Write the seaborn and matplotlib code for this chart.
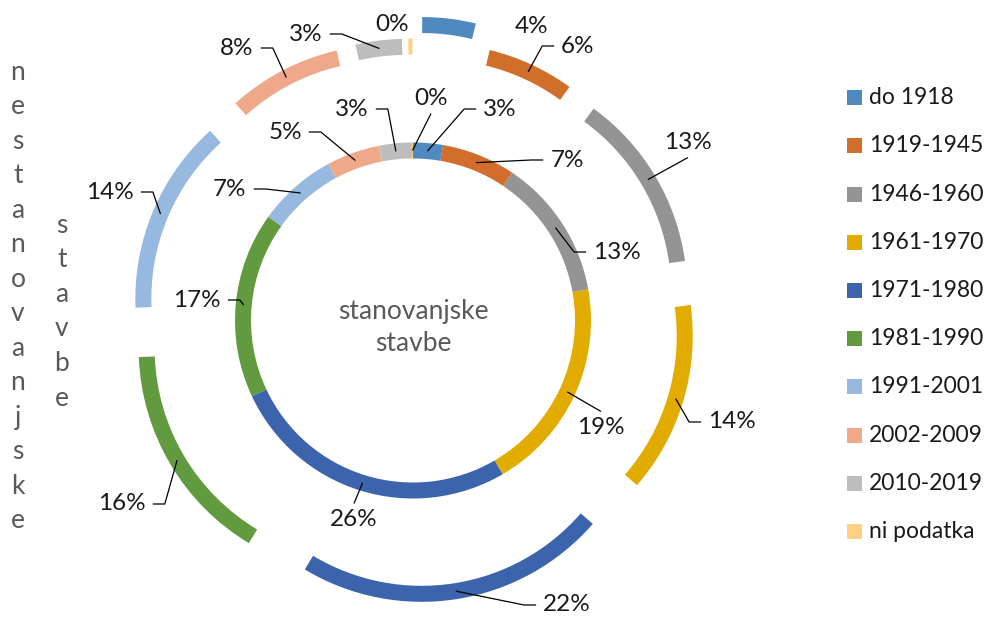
import matplotlib
matplotlib.use("Agg")
import matplotlib.pyplot as plt
import seaborn as sns
import numpy as np
from matplotlib.patches import Rectangle

# ---------------- data ----------------
categories = ["do 1918", "1919-1945", "1946-1960", "1961-1970", "1971-1980",
              "1981-1990", "1991-2001", "2002-2009", "2010-2019", "ni podatka"]
# inner ring: stanovanjske stavbe (%)
inner_values = [2.7, 6.7, 12.8, 19.4, 26.4, 16.9, 7.2, 4.8, 3.0, 0.1]
# outer ring: nestanovanjske stavbe (%)
outer_values = [3.8, 6.2, 12.8, 13.6, 22.2, 15.8, 13.9, 8.1, 3.3, 0.3]
center_title = "stanovanjske\nstavbe"
side_title_1 = "nestanovanjske"
side_title_2 = "stavbe"

# ---------------- style / layout ----------------
sns.set_theme(style="white")
plt.rcParams["font.family"] = ["Lato", "DejaVu Sans"]
colors = sns.color_palette(["#4F89BF", "#D26E2B", "#949494", "#E2AB00", "#3C64AD",
                            "#629A3F", "#98B9DF", "#F0A88B", "#BDBDBD", "#FED07F"])

W, H = 987, 617
CX, CY = 413, 320.5          # pixel coords (y down)
R_IN, R_OUT, RING_W = 178, 227, 16
explode_out = [77, 55, 55, 55, 55, 55, 55, 55, 55, 55]

# label layout (pixel centre, connection side)
outer_layout = [(532, 26, None), (578, 46, "l"), (688, 142, "b"), (732, 422, "l"),
                (567, 605, "l"), (122, 504, "r"), (110, 192, "r"), (237, 48, "r"),
                (306, 34, "r"), (392, 24, None)]
inner_layout = [(500, 109, "l"), (567, 160, "l"), (617, 252, "l"), (601, 427, "t"),
                (354, 519, "t"), (197, 300, "r"), (230, 189, "r"), (285, 132, "r"),
                (352, 109, "r"), (431, 98, "b")]

LBL = 17.5
LEG = 16.5
TTL = 19
TXT = "#1a1a1a"
GREY = "#595959"

fig = plt.figure(figsize=(W / 100, H / 100), dpi=100)
ax = fig.add_axes([0, 0, 1, 1])
cyd = H - CY

ax.pie(outer_values, radius=R_OUT, center=(CX, cyd), startangle=90, counterclock=False,
       colors=colors, explode=explode_out,
       wedgeprops=dict(width=RING_W, linewidth=0))
ax.pie(inner_values, radius=R_IN, center=(CX, cyd), startangle=90, counterclock=False,
       colors=colors, wedgeprops=dict(width=RING_W, linewidth=0))
ax.set_xlim(0, W)
ax.set_ylim(0, H)
ax.set_aspect("equal")
ax.axis("off")


def anchors(values, radius, explode):
    v = np.asarray(values, float)
    frac = v / v.sum()
    ends = np.cumsum(frac)
    mids = ends - frac / 2
    th = np.deg2rad(90 - 360 * mids)
    pts = []
    for t, e in zip(th, explode):
        rm = radius - RING_W / 2
        pts.append((CX + (e + rm) * np.cos(t), cyd + (e + rm) * np.sin(t)))
    return pts


ring_specs = [
    (outer_values, R_OUT, explode_out, outer_layout),
    (inner_values, R_IN, [0] * len(inner_values), inner_layout),
]

texts = []
for vals, rad, expl, layout in ring_specs:
    pts = anchors(vals, rad, expl)
    for v, p, (lx, ly, side) in zip(vals, pts, layout):
        t = ax.text(lx, H - ly, f"{round(v)}%", ha="center", va="center",
                    fontsize=LBL, color=TXT)
        texts.append((t, p, side))

fig.canvas.draw()
rend = fig.canvas.get_renderer()
for t, p, side in texts:
    if side is None:
        continue
    bb = t.get_window_extent(rend)
    xc = (bb.x0 + bb.x1) / 2
    yc = (bb.y0 + bb.y1) / 2
    if side == "l":
        end = (bb.x0 - 7, yc)
        elb = (end[0] - 12, yc)
        xs, ys = [p[0], elb[0], end[0]], [p[1], elb[1], end[1]]
    elif side == "r":
        end = (bb.x1 + 7, yc)
        elb = (end[0] + 12, yc)
        xs, ys = [p[0], elb[0], end[0]], [p[1], elb[1], end[1]]
    elif side == "t":
        xs, ys = [p[0], xc], [p[1], bb.y1 + 5]
    else:
        xs, ys = [p[0], xc], [p[1], bb.y0 - 5]
    ax.plot(xs, ys, color="black", lw=0.9, solid_capstyle="butt")

# centre title
ax.text(CX, H - 327, center_title, ha="center", va="center", fontsize=TTL,
        color=GREY, linespacing=1.35)

# vertical stacked series titles
for k, ch in enumerate(side_title_1):
    ax.text(18, H - (72 + 34.5 * k), ch, ha="center", va="center", fontsize=TTL, color=GREY)
for k, ch in enumerate(side_title_2):
    ax.text(62, H - (225 + 34.6 * k), ch, ha="center", va="center", fontsize=TTL, color=GREY)

# legend
for i, (cat, col) in enumerate(zip(categories, colors)):
    y = H - (97.7 + 48.2 * i)
    ax.add_patch(Rectangle((847, y - 7.5), 15, 15, facecolor=col, edgecolor="none"))
    ax.text(869, y, cat, ha="left", va="center", fontsize=LEG, color=TXT)

fig.savefig("out.png", dpi=100)
